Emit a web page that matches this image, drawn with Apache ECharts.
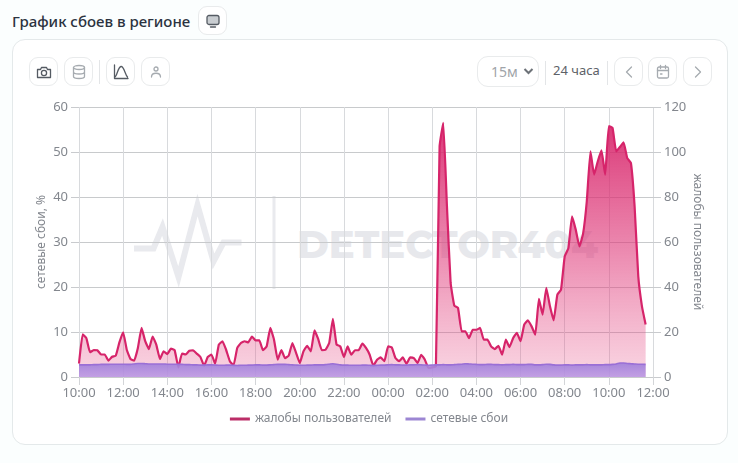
<!DOCTYPE html>
<html lang="ru"><head><meta charset="utf-8">
<script src="https://cdn.jsdelivr.net/npm/echarts@6/dist/echarts.min.js"></script>
<style>
html,body{margin:0;padding:0;width:738px;height:463px;overflow:hidden;background:#fbfefe;font-family:"Noto Sans",sans-serif;color:#2b3340}
.abs{position:absolute;box-sizing:border-box}
#title{left:12px;top:10px;font-size:15px;font-weight:500;line-height:22px;white-space:nowrap;letter-spacing:0}
.card{left:12px;top:39px;width:716px;height:406px;background:#fff;border:1px solid #e4e9ea;border-radius:13px}
.btn{width:29px;height:29px;background:#fff;border:1px solid #e9ebec;border-radius:9px;display:flex;align-items:center;justify-content:center}
.btn svg{display:block;fill:none;stroke:currentColor;stroke-width:1.3;stroke-linecap:round;stroke-linejoin:round}
.sep{width:1px;height:24px;background:#e3e5e7}
.tx{font-size:13px;line-height:16px;white-space:nowrap}
#wm,#chart{left:0;top:0;width:738px;height:463px}
</style></head><body>
<div class="abs" id="title">График сбоев в регионе</div>
<div class="abs btn" style="left:198px;top:6px;color:#555b63"><svg width="16" height="16" viewBox="0 0 16 16"><rect x="2" y="2.5" width="12" height="9" rx="2" fill="#c9cdd1"/><path d="M5.5 14h5"/></svg></div>
<div class="abs card"></div>
<div class="abs btn" style="left:29px;top:57px;color:#555b63"><svg width="18" height="18" viewBox="0 0 18 18"><path d="M2.5 6.5h3l1-2h5l1 2h3v8h-13z"/><circle cx="9" cy="10" r="2.6"/></svg></div>
<div class="abs btn" style="left:64px;top:57px;color:#a6abb0"><svg width="16" height="18" viewBox="0 0 16 18"><ellipse cx="8" cy="4.5" rx="5.5" ry="2"/><path d="M2.5 4.5v9c0 1 2.5 2 5.5 2s5.500-1 5.500-2v-9M2.500 9c0 1 2.500 2 5.500 2s5.500-1 5.500-2"/></svg></div>
<div class="abs sep" style="left:99px;top:60px"></div>
<div class="abs btn" style="left:106px;top:57px;color:#555b63"><svg width="18" height="18" viewBox="0 0 18 18"><path d="M2.500 2v13.500h13.500M3 14c2-1 3-10 6-10.500s4 8 6.500 10.500"/></svg></div>
<div class="abs btn" style="left:141px;top:57px;color:#a6abb0"><svg width="14" height="14" viewBox="0 0 14 14"><circle cx="7" cy="4" r="2"/><path d="M2.500 12c0-5 9-5 9 0"/></svg></div>
<div class="abs btn tx" style="left:477px;top:56px;width:62px;height:31px;border-radius:11px;color:#a0a4a9;justify-content:flex-start;padding-left:13px;font-size:14px">15м</div>
<svg class="abs" style="left:523px;top:67px" width="11" height="9" viewBox="0 0 11 9"><path d="M1.500 2l4 4 4-4" fill="none" stroke="#6d7278" stroke-width="2"/></svg>
<div class="abs sep" style="left:545px;top:61px"></div>
<div class="abs tx" style="left:553px;top:62px;color:#5d6268;font-size:13px">24 часа</div>
<div class="abs sep" style="left:607px;top:61px"></div>
<div class="abs btn" style="left:614px;top:57px;color:#a6abb0"><svg width="12" height="14" viewBox="0 0 12 14"><path d="M8.500 2l-5 5 5 5"/></svg></div>
<div class="abs btn" style="left:648px;top:57px;color:#a6abb0"><svg width="16" height="16" viewBox="0 0 16 16"><rect x="2.500" y="3" width="11" height="11" rx="1.500"/><path d="M2.500 6.500h11M5.500 1.500v3M10.500 1.500v3M5.500 10h1.500"/></svg></div>
<div class="abs btn" style="left:683px;top:57px;color:#a6abb0"><svg width="12" height="14" viewBox="0 0 12 14"><path d="M3.500 2l5 5-5 5"/></svg></div>
<svg class="abs" id="wm" viewBox="0 0 738 463">
  <g fill="none" stroke="#e9eaee" stroke-width="6"><path d="M134 248.500h19.500l9-21.500 16 50 19-72 16 56.500 10-19h18"/></g>
  <rect x="272.500" y="196" width="3" height="93" fill="#e9eaee"/>
  <text x="297" y="258" font-family="Montserrat,'Open Sans',sans-serif" font-weight="800" font-size="38" fill="#e7e8ec" textLength="301" lengthAdjust="spacingAndGlyphs">DETECTOR404</text>
</svg>
<div class="abs" id="chart"></div>
<script>
const tickLabels = ["10:00","12:00","14:00","16:00","18:00","20:00","22:00","00:00","02:00","04:00","06:00","08:00","10:00","12:00"];
const leftTicks = [0,10,20,30,40,50,60];
const rightTicks = [0,20,40,60,80,100,120];
const seriesNames = ["жалобы пользователей","сетевые сбои"];
const complaints = [
6,19,17.3,11,12,11.9,10,10,7.3,9,9.5,15.5,19.9,12,8,7.3,12.9,21.8,15.9,12.4,
18,14.4,8,11.4,10.2,12.6,11.9,4.3,10.4,10,11.7,11.9,10.4,8.9,5,8.9,10,5.9,14.4,15.9,
12,7,5.2,12.9,15.1,15.9,15.4,18,16.3,16.3,11.9,13.6,21.8,16.6,7.7,12,8.4,9.5,15.1,10.7,
6.2,11.4,13.9,11.4,20.7,16.9,11.9,12.1,15.1,25.8,14.4,13.6,8.9,13.6,9.9,11.9,11.9,14.8,12.9,9.9,
5,7.7,8.7,7,13.6,13.2,8.4,7,8.7,5.9,8.7,8.4,6.2,9.9,7.7,4,4.3,4.7,102.5,113,
75.9,41.8,31.7,30.7,20.3,20.3,17.3,21,21,21.8,16.6,16.6,13.6,12.4,13.9,9.9,16.6,13.3,17.3,19.6,
15.9,23.3,25.2,22.5,18.8,34.7,27.7,39.6,31.4,25.2,36.6,38.8,53.6,57.3,71.4,65.5,58,63.7,78,100.3,
89.9,95.9,100.7,89.9,111.5,110.7,100.3,102.2,104.3,97.3,95.1,75.9,44.7,31.4,23.3];
const outages = [
2.7,2.7,2.7,2.7,2.75,2.75,2.8,2.8,2.8,2.85,2.85,
2.85,2.85,2.8,2.8,2.9,3.0,3.0,2.95,2.9,2.9,
2.9,2.9,2.9,2.85,2.85,2.85,2.8,2.8,2.75,2.75,
2.7,2.7,2.65,2.65,2.7,2.7,2.65,2.6,2.6,2.65,
2.65,2.6,2.55,2.6,2.6,2.65,2.65,2.7,2.7,2.65,
2.65,2.7,2.75,2.8,2.8,2.8,2.75,2.7,2.65,2.6,
2.6,2.65,2.65,2.7,2.7,2.7,2.75,2.85,2.95,2.85,
2.7,2.65,2.65,2.6,2.6,2.6,2.65,2.65,2.6,2.55,
2.6,2.65,2.65,2.7,2.75,2.7,2.7,2.65,2.65,2.7,
2.7,2.75,2.7,2.65,2.6,2.65,2.7,2.7,2.75,2.7,
2.7,2.75,2.8,2.85,2.95,2.9,2.85,2.8,2.75,2.75,
2.8,2.8,2.75,2.75,2.7,2.75,2.75,2.8,2.75,2.75,
2.75,2.8,2.8,2.7,2.7,2.75,2.85,2.8,2.7,2.65,
2.65,2.7,2.7,2.65,2.7,2.7,2.7,2.75,2.7,2.7,
2.7,2.7,2.75,2.75,2.8,2.9,3.1,3.1,3.0,2.95,
2.9,2.85,2.85,2.8];
const stepMinutes = 10, totalHours = 26;
const hourLabel = v => tickLabels[Math.round(v/2)] ?? "";
const toPairs = vals => vals.map((v,i)=>[i*stepMinutes/60, v]);
const font = '"Noto Sans",sans-serif', axisColor = "#83878e";
const chart = echarts.init(document.getElementById("chart"),null,{renderer:"canvas"});
const yBase = {type:"value",min:0,nameLocation:"middle",nameMoveOverlap:false,
  nameTextStyle:{color:axisColor,fontSize:12,fontFamily:font},
  axisLabel:{color:axisColor,fontSize:13,fontFamily:font,margin:11},
  axisLine:{show:false},axisTick:{show:true,length:8,lineStyle:{color:"#c9cbce"}},
  splitLine:{show:true,lineStyle:{color:"#c8cacc",width:1}}};
chart.setOption({
  backgroundColor:"transparent",animation:false,
  grid:{left:79,right:85,top:107,bottom:86},
  legend:{bottom:33,left:"center",itemWidth:20,itemHeight:3,itemGap:14,icon:"rect",
    textStyle:{color:axisColor,fontSize:12,fontFamily:font},data:seriesNames},
  xAxis:{type:"value",min:0,max:totalHours,interval:2,
    axisLabel:{color:axisColor,fontSize:13,fontFamily:font,margin:10,formatter:hourLabel,hideOverlap:false},
    axisLine:{show:false},axisTick:{show:true,length:8,lineStyle:{color:"#d3d5d8"}},
    splitLine:{show:true,lineStyle:{color:"#d8dadd",width:1}}},
  yAxis:[
    {...yBase,name:"сетевые сбои, %",nameGap:31,max:leftTicks[leftTicks.length-1],interval:leftTicks[1]},
    {...yBase,name:seriesNames[0],nameRotate:-90,nameGap:38,max:rightTicks[rightTicks.length-1],interval:rightTicks[1],splitLine:{show:false}}
  ],
  series:[
    {name:seriesNames[0],type:"line",yAxisIndex:1,showSymbol:false,smooth:0.12,z:3,
     data:toPairs(complaints),
     itemStyle:{color:"#bb2d67"},
     lineStyle:{color:"#d6246a",width:2.2,join:"round"},
     areaStyle:{opacity:1,color:new echarts.graphic.LinearGradient(0,0,0,1,[
       {offset:0,color:"rgba(214,34,104,0.9)"},{offset:0.5,color:"rgba(222,52,118,0.58)"},{offset:1,color:"rgba(230,80,135,0.24)"}])}},
    {name:seriesNames[1],type:"line",yAxisIndex:0,showSymbol:false,smooth:0.2,z:4,
     data:toPairs(outages),
     itemStyle:{color:"#9c86d3"},
     lineStyle:{color:"#9a6fd6",width:1.6},
     areaStyle:{opacity:1,color:new echarts.graphic.LinearGradient(0,0,0,1,[
       {offset:0,color:"rgba(160,128,218,0.92)"},{offset:1,color:"rgba(185,150,228,0.85)"}])}}
  ]
});
</script>
</body></html>
